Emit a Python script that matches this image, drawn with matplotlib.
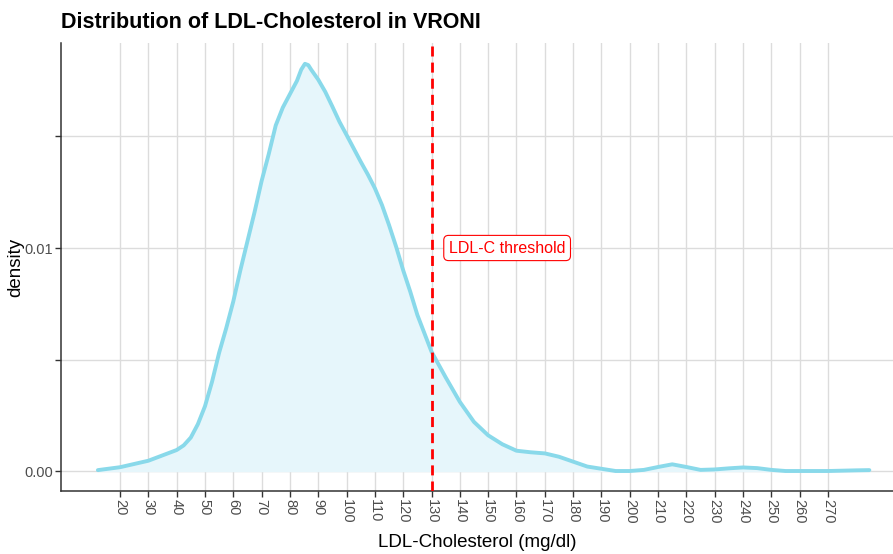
import numpy as np
import matplotlib.pyplot as plt

plt.rcParams['font.family'] = ['Liberation Sans', 'DejaVu Sans']

# density curve
ldl = [12.2, 20, 30, 40, 42.5, 45, 47.5, 50, 52.5, 55, 57.5, 60, 62.5, 65, 67.5,
       70, 72.5, 75, 77.5, 80, 82.5, 84, 85.3, 86.5, 87.5, 90, 92.5, 95, 97.5, 100,
       105, 107.5, 110, 112.5, 115, 117.5, 120, 122.5, 125, 130, 135, 140, 145,
       150, 155, 160, 165, 170, 175, 180, 185, 190, 195, 200, 205, 210, 215, 220,
       225, 230, 235, 240, 245, 250, 255, 260, 270, 280, 284.6]
density = [0.00004, 0.00017, 0.00046, 0.00094, 0.00115, 0.0015, 0.0021, 0.0029,
           0.0040, 0.0053, 0.0064, 0.0076, 0.0090, 0.0103, 0.0116, 0.0130, 0.0142,
           0.0155, 0.0163, 0.0169, 0.0175, 0.0180, 0.01826, 0.0182, 0.0180,
           0.01755, 0.0170, 0.01634, 0.01566, 0.01507, 0.01387, 0.0133, 0.01268,
           0.01193, 0.01103, 0.01006, 0.0090, 0.00804, 0.0070, 0.00535, 0.0042,
           0.0031, 0.0022, 0.0016, 0.0012, 0.00091, 0.00084, 0.00079, 0.00064,
           0.00042, 0.0002, 0.0001, 0.0, 0.0, 0.00005, 0.00018, 0.0003, 0.00018,
           0.00005, 0.00007, 0.00012, 0.00016, 0.00013, 0.00005, 0.0, 0.0, 0.0,
           0.00003, 0.00004]

threshold = 130
x_ticks = list(range(20, 280, 10))
y_ticks = [0.0, 0.005, 0.01, 0.015]
y_labels = ["0.00", "", "0.01", ""]

fig = plt.figure(figsize=(8.93, 5.54), dpi=100)
ax = fig.add_axes([0.0683, 0.1137, 0.9317, 0.8087])

ax.fill_between(ldl, density, 0, color='#e6f6fb', zorder=2)
ax.plot(ldl, density, color='#89d9ea', lw=2.8, zorder=3,
        solid_capstyle='round', solid_joinstyle='round')
ax.axvline(threshold, color='#ff0000', ls=(0, (3.6, 2.2)), lw=2, zorder=4)
ax.text(156.7, 0.01, "LDL-C threshold", color='#ff0000', fontsize=11.5,
        ha='center', va='center', zorder=5,
        bbox=dict(boxstyle='round,pad=0.32,rounding_size=0.3', fc='white',
                  ec='#ff0000', lw=0.8))

ax.set_xlim(-0.83, 292.95)
ax.set_ylim(-0.000897, 0.019193)
ax.set_xticks(x_ticks)
ax.set_xticklabels([str(t) for t in x_ticks], rotation=-90)
ax.set_yticks(y_ticks)
ax.set_yticklabels(y_labels)
ax.grid(True, color='#dcdcdc', lw=1, zorder=0)
ax.set_axisbelow(True)
ax.tick_params(axis='both', labelsize=10.5, labelcolor='#4d4d4d', color='#333333',
               length=4, width=1, pad=1.5)

for s in ['top', 'right']:
    ax.spines[s].set_visible(False)
for s in ['left', 'bottom']:
    ax.spines[s].set_color('#333333')
    ax.spines[s].set_linewidth(1.1)

ax.set_xlabel("LDL-Cholesterol (mg/dl)", fontsize=13.5, va='center')
ax.set_ylabel("density", fontsize=13.5)
ax.xaxis.set_label_coords(0.5, -0.116)
ax.yaxis.set_label_coords(-0.0445, 0.5)
fig.text(0.0683, 0.96, "Distribution of LDL-Cholesterol in VRONI", fontsize=15.5,
         fontweight='bold', ha='left', va='center')

fig.savefig("out.png", dpi=100)
